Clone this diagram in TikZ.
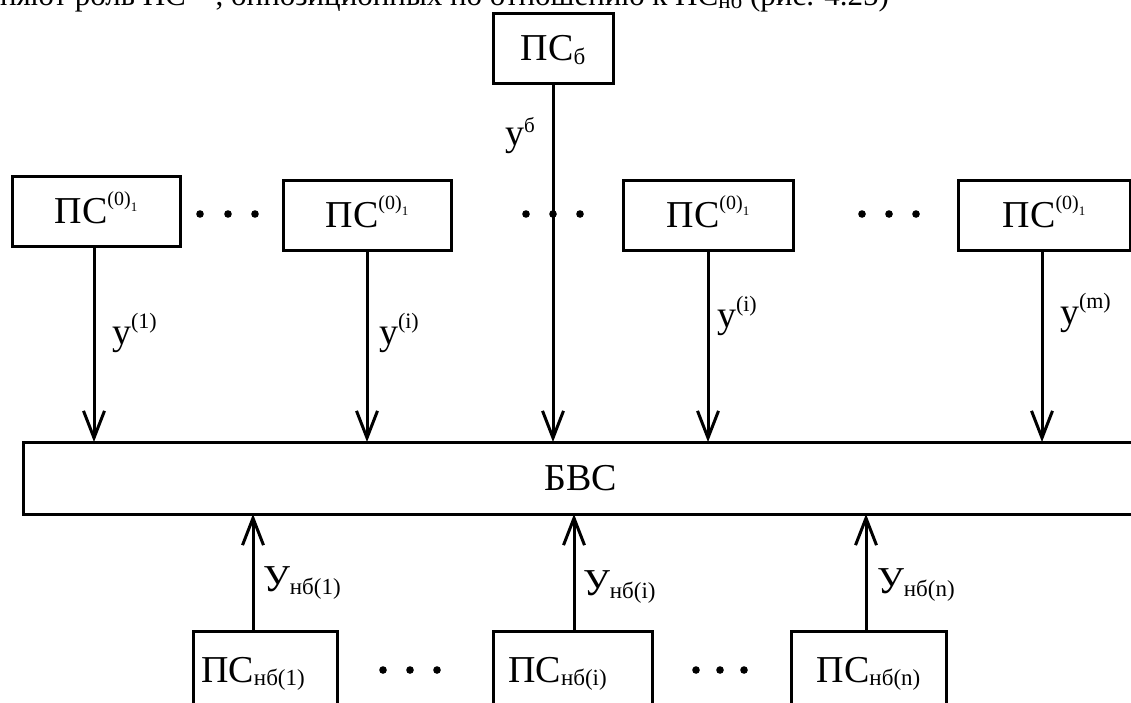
\documentclass[tikz,border=0pt]{standalone}
\usepackage{fontspec}
\setmainfont{Liberation Serif}
\usetikzlibrary{arrows.meta}
\newcommand\bigf{\fontsize{38}{44}\selectfont}
\newcommand\supA[1]{\raisebox{16pt}{\fontsize{22}{22}\selectfont #1}}
\newcommand\supB[1]{\raisebox{13pt}{\fontsize{21}{21}\selectfont #1}}
\newcommand\subB[1]{\raisebox{-3pt}{\fontsize{23}{23}\selectfont #1}}
\newcommand\subC[1]{\raisebox{-4pt}{\fontsize{23}{23}\selectfont #1}}
\newcommand\pss{ПС\raisebox{18pt}{\fontsize{20}{20}\selectfont (0)\raisebox{-6pt}{\fontsize{13}{13}\selectfont 1}}}
\begin{document}
\begin{tikzpicture}[x=1pt,y=-1pt,font=\bigf,
  box/.style={draw,line width=3pt,inner sep=0pt,outer sep=0pt,text height=25pt,text depth=0pt},
  arr/.style={line width=3pt,-{Straight Barb[length=27pt,width=21pt,line width=3pt]}},
  lbl/.style={anchor=base west,inner sep=0pt,outer sep=0pt},
  dotc/.style={fill=black}]
\useasboundingbox (0,0) rectangle (1131,702);
\clip (0,0) rectangle (1131,702);
% cut text line at top
\node[lbl,font=\fontsize{31}{36}\selectfont] (toptext) at (0,5) {няют роль \pss, оппозиционных по отношению к ПС\subB{нб} (рис. 4.25)};
% boxes
\node[box,minimum width=120pt,minimum height=70pt] (pb) at (553,48) {ПС\subC{б}};
\node[box,minimum width=168pt,minimum height=70pt] (b1) at (96,211) {\pss};
\node[box,minimum width=168pt,minimum height=70pt] (b2) at (367,215) {\pss};
\node[box,minimum width=170pt,minimum height=70pt] (b3) at (708,215) {\pss};
\node[box,minimum width=172pt,minimum height=70pt] (b4) at (1044,215) {\pss};
\node[box,minimum width=1116pt,minimum height=72pt] (bvs) at (581,478) {БВС};
\node[box,minimum width=144pt,minimum height=78pt] (nb1) at (265,670) {\hspace*{-24pt}ПС\subB{нб(1)}};
\node[box,minimum width=159pt,minimum height=78pt] (nb2) at (572.5,670) {\hspace*{-30pt}ПС\subB{нб(i)}};
\node[box,minimum width=155pt,minimum height=78pt] (nb3) at (868.5,670) {ПС\subB{нб(n)}};
% arrows down
\draw[arr] (pb.south) -- (pb.south |- bvs.north);
\draw[arr] ([xshift=-2pt]b1.south) -- ([xshift=-2pt]b1.south |- bvs.north);
\draw[arr] (b2.south) -- (b2.south |- bvs.north);
\draw[arr] (b3.south) -- (b3.south |- bvs.north);
\draw[arr] ([xshift=-2pt]b4.south) -- ([xshift=-2pt]b4.south |- bvs.north);
% arrows up
\draw[arr] ([xshift=-12pt]nb1.north) -- ([xshift=-12pt]nb1.north |- bvs.south);
\draw[arr] ([xshift=1.5pt]nb2.north) -- ([xshift=1.5pt]nb2.north |- bvs.south);
\draw[arr] ([xshift=-2.5pt]nb3.north) -- ([xshift=-2.5pt]nb3.north |- bvs.south);
% labels
\node[lbl] (lb) at (505,145) {y\supB{б}};
\node[lbl] (l1) at (112,344) {y\supA{(1)}};
\node[lbl] (l2) at (379,344) {y\supA{(i)}};
\node[lbl] (l3) at (717,327) {y\supA{(i)}};
\node[lbl] (l4) at (1060,324) {y\supA{(m)}};
\node[lbl] (u1) at (263,591) {У\subB{нб(1)}};
\node[lbl] (u2) at (583,595) {У\subB{нб(i)}};
\node[lbl] (u3) at (877,593) {У\subB{нб(n)}};
% dots
\foreach \x in {200,228,255,526,553,580,862,889,916}
  \fill[dotc] (\x,214) circle (3.8);
\foreach \x in {383,410,437,696,720,744}
  \fill[dotc] (\x,670) circle (3.8);
\end{tikzpicture}
\end{document}
